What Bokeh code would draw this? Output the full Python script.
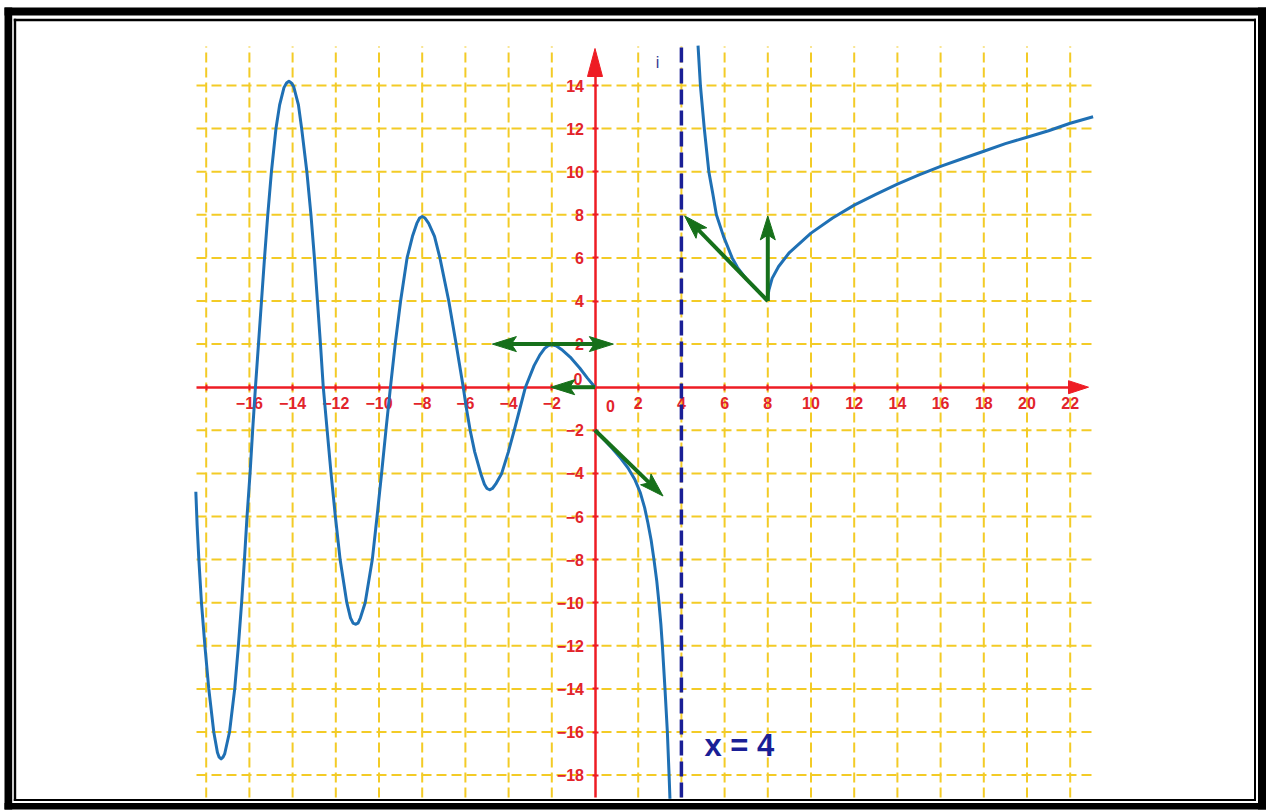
from bokeh.plotting import figure
from bokeh.models import LinearAxis, FixedTicker
from bokeh.core.properties import value
from bokeh.embed import file_html
from bokeh.resources import INLINE

# ---------------- data ----------------
# branch x < 0 (oscillating part)
LEFT_X = [-18.48, -18.42, -18.34, -18.22, -18.06, -17.88, -17.65, -17.48, -17.40, -17.31,
          -17.22, -17.14, -16.92, -16.68, -16.51, -16.36, -16.23, -16.11, -15.97, -15.85,
          -15.72, -15.58, -15.44, -15.30, -15.15, -14.98, -14.77, -14.60, -14.40, -14.28,
          -14.17, -14.06, -13.95, -13.73, -13.58, -13.34, -13.15, -12.99, -12.85, -12.71,
          -12.58, -12.40, -12.22, -12.02, -11.80, -11.49, -11.32, -11.20, -11.09, -10.97,
          -10.86, -10.64, -10.31, -10.09, -9.88, -9.68, -9.47, -9.25, -9.00, -8.70,
          -8.45, -8.25, -8.12, -8.00, -7.87, -7.70, -7.43, -7.18, -6.77, -6.43,
          -6.10, -5.95, -5.78, -5.57, -5.29, -5.12, -5.00, -4.88, -4.75, -4.60,
          -4.32, -4.01, -3.74, -3.48, -3.22, -2.82, -2.55, -2.33, -2.16, -2.00,
          -1.80, -1.55, -1.15, -0.70, -0.35, 0.00]
LEFT_Y = [-4.85, -6.4, -8.0, -10.0, -12.0, -14.0, -16.0, -16.95, -17.17, -17.25,
          -17.17, -17.0, -16.0, -14.0, -12.0, -10.0, -8.0, -6.0, -4.0, -2.0,
          0.0, 2.0, 4.0, 6.0, 8.0, 10.0, 12.0, 13.1, 13.9, 14.12,
          14.2, 14.12, 13.95, 13.1, 12.0, 10.0, 8.0, 6.0, 4.0, 2.0,
          0.0, -2.0, -4.0, -6.0, -8.0, -10.0, -10.7, -10.95, -11.0, -10.95,
          -10.7, -10.0, -8.0, -6.0, -4.0, -2.0, 0.0, 2.0, 4.0, 6.0,
          7.0, 7.6, 7.85, 7.92, 7.85, 7.6, 7.0, 6.0, 4.0, 2.0,
          0.0, -1.0, -2.0, -3.0, -4.0, -4.5, -4.70, -4.76, -4.70, -4.5,
          -4.0, -3.0, -2.0, -1.0, 0.0, 1.0, 1.5, 1.8, 1.93, 1.97,
          1.92, 1.75, 1.40, 0.88, 0.42, 0.00]

# branch 0 < x < 4
MID_X = [0.00, 0.40, 0.80, 1.20, 1.55, 1.85, 2.10, 2.30, 2.45, 2.60,
         2.73, 2.86, 2.96, 3.05, 3.12, 3.24, 3.35, 3.43, 3.47]
MID_Y = [-2.00, -2.41, -2.84, -3.31, -3.78, -4.30, -4.90, -5.60, -6.30, -7.10,
         -8.00, -9.00, -10.00, -11.00, -12.00, -14.00, -16.00, -18.00, -19.10]

# branch 4 < x < 8
R1_X = [4.77, 4.88, 5.06, 5.27, 5.45, 5.62, 5.95, 6.35, 6.60, 7.00, 7.50, 8.00]
R1_Y = [15.85, 14.0, 12.0, 10.0, 9.0, 8.0, 7.0, 6.0, 5.55, 5.02, 4.51, 4.00]

# branch x > 8
R2_X = [8.00, 8.01, 8.05, 8.20, 8.50, 9.00, 9.50, 10.0, 11.0, 12.0,
        13.0, 14.0, 15.0, 16.0, 17.0, 18.0, 19.0, 20.0, 21.0, 22.0, 23.06]
R2_Y = [4.00, 4.25, 4.50, 5.05, 5.60, 6.25, 6.70, 7.15, 7.85, 8.45,
        8.95, 9.42, 9.85, 10.25, 10.60, 10.95, 11.30, 11.60, 11.90, 12.25, 12.55]

ASYMPTOTE_X = 4
ASYMPTOTE_LABEL = "x = 4"
LINE_NAME = "i"

# tangent vectors (start -> tip)
VEC_X0 = [-2.0, -2.0, 0.0, 0.0, 8.0, 8.0]
VEC_Y0 = [2.0, 2.0, 0.0, -2.0, 4.0, 4.0]
VEC_X1 = [-4.75, 0.85, -2.05, 3.15, 4.15, 8.0]
VEC_Y1 = [2.0, 2.0, 0.0, -5.05, 7.95, 7.95]

X_TICKS = [-18, -16, -14, -12, -10, -8, -6, -4, -2, 2, 4, 6, 8, 10, 12, 14, 16, 18, 20, 22]
X_TICK_LABELS = ["", "−16", "−14", "−12", "−10", "−8", "−6", "−4", "−2",
                 "2", "4", "6", "8", "10", "12", "14", "16", "18", "20", "22"]
Y_TICKS = [-18, -16, -14, -12, -10, -8, -6, -4, -2, 2, 4, 6, 8, 10, 12, 14]
Y_TICK_LABELS = ["−18", "−16", "−14", "−12", "−10", "−8", "−6", "−4", "−2",
                 "2", "4", "6", "8", "10", "12", "14"]
GRID_XS = [-18, -16, -14, -12, -10, -8, -6, -4, -2, 2, 4, 6, 8, 10, 12, 14, 16, 18, 20, 22]
GRID_YS = [-18, -16, -14, -12, -10, -8, -6, -4, -2, 2, 4, 6, 8, 10, 12, 14]
ORIGIN_LABEL = "0"

# ---------------- layout / style ----------------
W, H = 1269, 811
PX_X, PX_Y = 21.6, 21.55          # pixels per unit
X0_C, Y0_C = 594.5, 386.7         # canvas position of the origin
x_start, x_end = -X0_C / PX_X, (W - X0_C) / PX_X
y_start, y_end = -(H - Y0_C) / PX_Y, Y0_C / PX_Y


def X(c):
    return x_start + c / PX_X


def Y(c):
    return y_end - c / PX_Y


GRID_L, GRID_R, GRID_T, GRID_B = X(196), X(1093), Y(46), Y(797)

RED = "#ee1c24"
LABEL_RED = "#e2242b"
GRID_COL = "#f3cb26"
CURVE = "#1f70b4"
GREEN = "#16701a"
NAVY = "#1a1f96"
FONT = "Liberation Sans"

p = figure(width=W, height=H, x_range=(x_start, x_end), y_range=(y_start, y_end),
           output_backend="svg", toolbar_location=None, min_border=0,
           x_axis_type=None, y_axis_type=None)
p.outline_line_color = None
p.background_fill_color = "white"
p.border_fill_color = "white"

# frame (double black border): outer thick band, inner thin line
p.quad(left=[X(4), X(4), X(1257.5), X(4)],
       right=[X(1265.5), X(11.7), X(1265.5), X(1265.5)],
       top=[Y(7), Y(7), Y(7), Y(802.5)],
       bottom=[Y(15), Y(809), Y(809), Y(809)],
       fill_color="black", line_color=None)
p.quad(left=[X(13.3), X(13.3), X(1253.5), X(13.3)],
       right=[X(1255.5), X(15.7), X(1255.5), X(1255.5)],
       top=[Y(18.3), Y(18.3), Y(18.3), Y(798.5)],
       bottom=[Y(20.7), Y(800.5), Y(800.5), Y(800.5)],
       fill_color="black", line_color=None)

# grid
p.segment(x0=GRID_XS, y0=GRID_B, x1=GRID_XS, y1=GRID_T,
          line_color=GRID_COL, line_width=2, line_dash="10 5")
p.segment(x0=GRID_L, y0=GRID_YS, x1=GRID_R, y1=GRID_YS,
          line_color=GRID_COL, line_width=2, line_dash="10 5")

# axes
x_tip = X(1088)
y_tip = Y(48)
XH_LEN, XH_W = 20, 6.5
YH_LEN, YH_W = 28, 7.5

xaxis = LinearAxis(fixed_location=0, ticker=FixedTicker(ticks=X_TICKS),
                   major_label_overrides={t: s for t, s in zip(X_TICKS, X_TICK_LABELS)},
                   bounds=(GRID_L, x_tip - XH_LEN / PX_X))
yaxis = LinearAxis(fixed_location=0, ticker=FixedTicker(ticks=Y_TICKS),
                   major_label_overrides={t: s for t, s in zip(Y_TICKS, Y_TICK_LABELS)},
                   bounds=(GRID_B, y_tip - YH_LEN / PX_Y))
for ax in (xaxis, yaxis):
    ax.axis_line_color = RED
    ax.axis_line_width = 2.5
    ax.major_tick_line_color = RED
    ax.major_tick_line_width = 2
    ax.major_tick_in = 3
    ax.major_tick_out = 3
    ax.minor_tick_line_color = None
    ax.major_label_text_color = LABEL_RED
    ax.major_label_text_font = FONT
    ax.major_label_text_font_style = "bold"
    ax.major_label_text_font_size = "16px"
xaxis.major_label_standoff = 7
yaxis.major_label_standoff = 8
p.add_layout(xaxis, "below")
p.add_layout(yaxis, "left")

# axis arrow heads
p.patches(xs=[[x_tip, x_tip - XH_LEN / PX_X, x_tip - XH_LEN / PX_X],
              [0, -YH_W / PX_X, YH_W / PX_X]],
          ys=[[0, XH_W / PX_Y, -XH_W / PX_Y],
              [y_tip, y_tip - YH_LEN / PX_Y, y_tip - YH_LEN / PX_Y]],
          fill_color=RED, line_color=RED, line_width=1, level="guide")

# origin labels
p.text(x=[0.72, -0.79], y=[-0.88, 0.38], text=[ORIGIN_LABEL, ORIGIN_LABEL],
       text_color=LABEL_RED, text_font=value(FONT), text_font_style="bold",
       text_font_size="16px", text_align="center", text_baseline="middle")

# asymptote
p.segment(x0=[ASYMPTOTE_X], y0=[GRID_B], x1=[ASYMPTOTE_X], y1=[GRID_T],
          line_color=NAVY, line_width=3.5, line_dash="15 6", level="annotation")
p.text(x=[X(704)], y=[Y(745)], text=[ASYMPTOTE_LABEL], text_color=NAVY,
       text_font=value(FONT), text_font_style="bold", text_font_size="31px",
       text_align="left", text_baseline="middle")
p.text(x=[X(657)], y=[Y(62)], text=[LINE_NAME], text_color="#3b3b92",
       text_font=value(FONT), text_font_size="16px",
       text_align="center", text_baseline="middle")

# curve
for xs, ys in ((LEFT_X, LEFT_Y), (MID_X, MID_Y), (R1_X, R1_Y), (R2_X, R2_Y)):
    p.line(xs, ys, line_color=CURVE, line_width=3, line_join="round", level="overlay")

# tangent vectors
H_LEN, H_W, H_NOTCH = 24.0, 7.5, 5.0
shaft_x0, shaft_y0, shaft_x1, shaft_y1 = [], [], [], []
head_xs, head_ys = [], []
for x0, y0, x1, y1 in zip(VEC_X0, VEC_Y0, VEC_X1, VEC_Y1):
    du, dv = (x1 - x0) * PX_X, (y1 - y0) * PX_Y
    n = (du * du + dv * dv) ** 0.5
    ux, uy = du / n, dv / n
    nx, ny = -uy, ux
    tu, tv = x1 * PX_X, y1 * PX_Y
    bu, bv = tu - ux * H_LEN, tv - uy * H_LEN
    pts = [(tu, tv), (bu + nx * H_W, bv + ny * H_W),
           (tu - ux * (H_LEN - H_NOTCH), tv - uy * (H_LEN - H_NOTCH)),
           (bu - nx * H_W, bv - ny * H_W)]
    head_xs.append([a / PX_X for a, _ in pts])
    head_ys.append([b / PX_Y for _, b in pts])
    shaft_x0.append(x0)
    shaft_y0.append(y0)
    shaft_x1.append((tu - ux * (H_LEN - H_NOTCH)) / PX_X)
    shaft_y1.append((tv - uy * (H_LEN - H_NOTCH)) / PX_Y)

p.segment(x0=shaft_x0, y0=shaft_y0, x1=shaft_x1, y1=shaft_y1,
          line_color=GREEN, line_width=4, level="overlay")
p.patches(xs=head_xs, ys=head_ys, fill_color=GREEN, line_color=GREEN,
          line_width=1, level="overlay")

open("out.html", "w").write(file_html(p, INLINE))
